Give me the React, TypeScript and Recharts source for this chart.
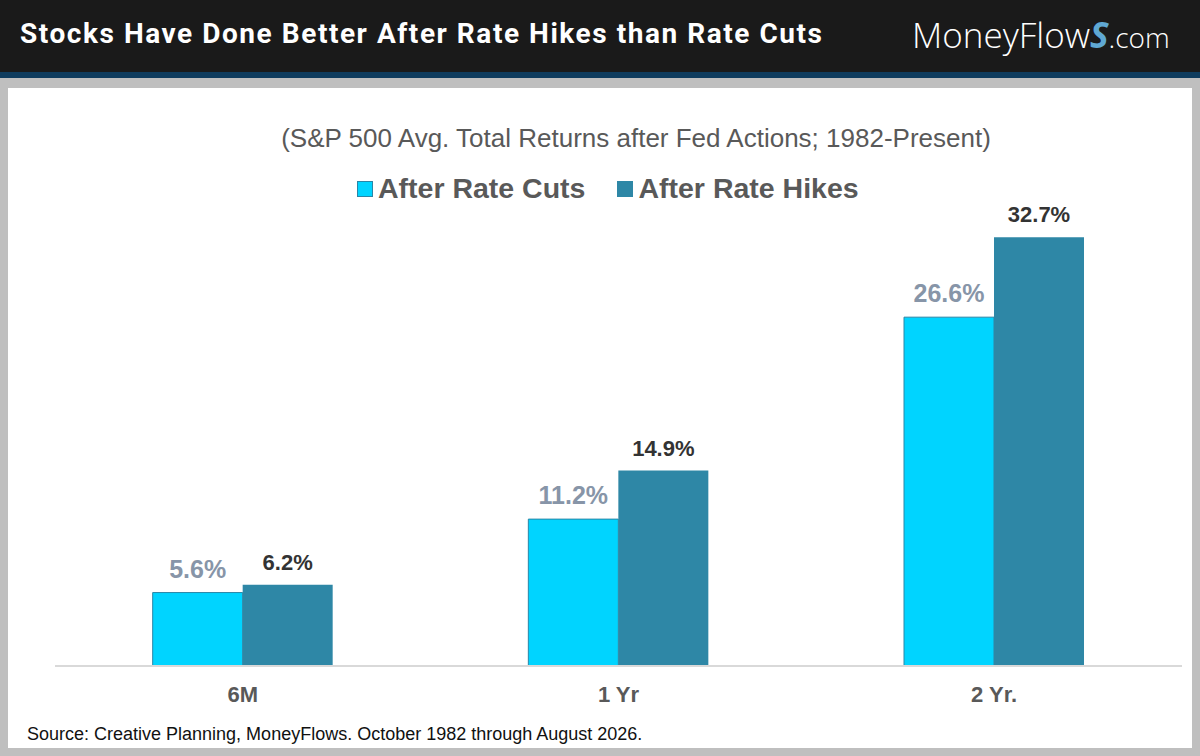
import { Bar, BarChart, LabelList, XAxis, YAxis } from 'recharts';

const PERIODS = ['6M', '1 Yr', '2 Yr.'];
const AFTER_CUTS = [5.6, 11.2, 26.6];
const AFTER_HIKES = [6.2, 14.9, 32.7];

const CUT_COLOR = '#00d4ff';
const HIKE_COLOR = '#2e87a6';

const data = PERIODS.map((period, i) => ({
  period,
  cuts: AFTER_CUTS[i],
  hikes: AFTER_HIKES[i],
}));

const pct = (v: unknown) => `${Number(v).toFixed(1)}%`;

function LegendRow() {
  const items = [
    { label: 'After Rate Cuts', color: CUT_COLOR, border: '#2a86a6' },
    { label: 'After Rate Hikes', color: HIKE_COLOR, border: HIKE_COLOR },
  ];
  return (
    <div style={{ display: 'flex', gap: 32 }}>
      {items.map((item) => (
        <span
          key={item.label}
          style={{
            display: 'flex',
            alignItems: 'center',
            gap: 5,
            fontSize: 28.5,
            fontWeight: 700,
            color: '#595959',
          }}
        >
          <span
            style={{
              width: 14,
              height: 14,
              background: item.color,
              border: `1px solid ${item.border}`,
              display: 'inline-block',
            }}
          />
          {item.label}
        </span>
      ))}
    </div>
  );
}

export default function App() {
  return (
    <div
      style={{
        position: 'absolute',
        left: 0,
        top: 0,
        width: 1200,
        height: 756,
        background: '#bfbfbf',
        fontFamily: '"Liberation Sans", Arial, sans-serif',
        overflow: 'hidden',
      }}
    >
      <div style={{ position: 'absolute', left: 0, top: 0, width: 1200, height: 72, background: '#1a1a1a' }} />
      <div style={{ position: 'absolute', left: 0, top: 72, width: 1200, height: 6, background: '#0f3c5e' }} />
      <div style={{ position: 'absolute', left: 8, top: 88, width: 1184, height: 660, background: '#ffffff' }} />
      <div
        style={{
          position: 'absolute',
          left: 20,
          top: 17,
          color: '#ffffff',
          fontFamily: 'Roboto, sans-serif',
          fontWeight: 700,
          fontSize: 28,
          letterSpacing: 1.55,
        }}
      >
        Stocks Have Done Better After Rate Hikes than Rate Cuts
      </div>
      <div
        style={{
          position: 'absolute',
          left: 912,
          top: 11,
          color: '#ffffff',
          fontFamily: '"Open Sans", sans-serif',
          fontWeight: 300,
          fontSize: 35,
        }}
      >
        MoneyFlow<span style={{ color: '#5fa8d3', fontWeight: 700, fontStyle: 'italic' }}>S</span>
        <span style={{ fontSize: 28 }}>.com</span>
      </div>
      <div
        style={{
          position: 'absolute',
          left: 0,
          width: 1272,
          top: 123,
          textAlign: 'center',
          fontSize: 26,
          color: '#595959',
        }}
      >
        (S&amp;P 500 Avg. Total Returns after Fed Actions; 1982-Present)
      </div>
      <div style={{ position: 'absolute', left: 357, top: 172 }}>
        <LegendRow />
      </div>
      <div style={{ position: 'absolute', left: 0, top: 0 }}>
        <BarChart
          width={1200}
          height={756}
          data={data}
          margin={{ top: 207, right: 18, bottom: 60, left: 55 }}
          barCategoryGap="26%"
          barGap={0}
        >
          <XAxis
            dataKey="period"
            axisLine={{ stroke: '#d9d9d9', strokeWidth: 2 }}
            tickLine={false}
            tickMargin={14}
            tick={{ fill: '#595959', fontSize: 22, fontWeight: 700 }}
          />
          <YAxis hide domain={[0, 35]} />
          <Bar dataKey="cuts" fill={CUT_COLOR} stroke="#2a86a6" strokeWidth={1} isAnimationActive={false}>
            <LabelList
              dataKey="cuts"
              position="top"
              offset={15}
              formatter={pct}
              style={{ fill: '#8795a8', fontSize: 25, fontWeight: 700 }}
            />
          </Bar>
          <Bar dataKey="hikes" fill={HIKE_COLOR} isAnimationActive={false}>
            <LabelList
              dataKey="hikes"
              position="top"
              offset={15}
              formatter={pct}
              style={{ fill: '#333333', fontSize: 22, fontWeight: 700 }}
            />
          </Bar>
        </BarChart>
      </div>
      <div style={{ position: 'absolute', left: 27, top: 724, fontSize: 18, color: '#111111' }}>
        Source: Creative Planning, MoneyFlows. October 1982 through August 2026.
      </div>
    </div>
  );
}
